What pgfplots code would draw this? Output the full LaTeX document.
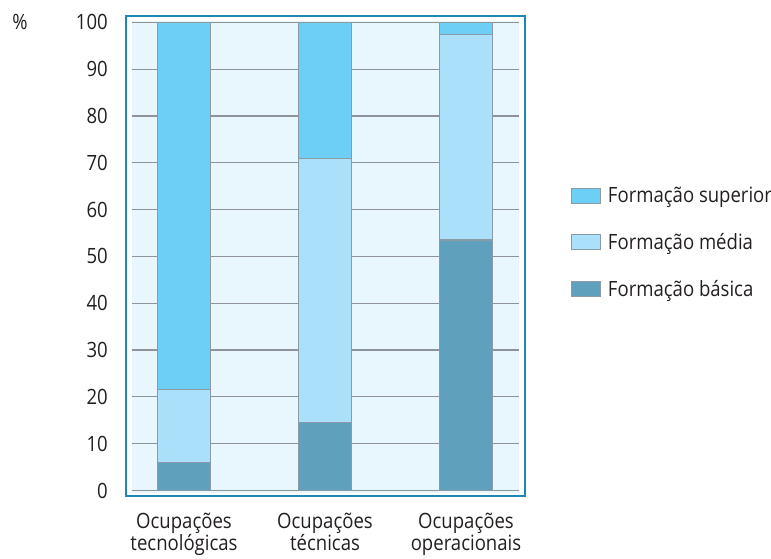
\documentclass[border=0pt]{standalone}
\usepackage{fontspec}
\setmainfont{Open Sans}[FakeStretch=0.88]
\usepackage{pgfplots}
\pgfplotsset{compat=1.18}
\definecolor{csup}{HTML}{6DCFF6}
\definecolor{cmed}{HTML}{ABE0FA}
\definecolor{cbas}{HTML}{5FA0BC}
\definecolor{edgegray}{HTML}{8A9BA6}
\definecolor{bgblue}{HTML}{E8F6FD}
\definecolor{gridgray}{HTML}{8E9399}
\definecolor{framecol}{HTML}{1E88B4}
\definecolor{txt}{HTML}{231F20}
\begin{document}
\begin{tikzpicture}
\path[use as bounding box] (0pt,0pt) rectangle (578.25pt,-419.25pt);
\draw[framecol, line width=1.1pt] (94.5pt,-12pt) rectangle (393.75pt,-372pt);
\node[anchor=west, inner sep=0pt, font=\fontsize{15.8}{18}\selectfont, text=txt] at (9pt,-16.5pt) {\%};
\begin{axis}[
  at={(99pt,-369.75pt)}, anchor=south west,
  scale only axis, width=290.25pt, height=354pt,
  xmin=-0.369, xmax=2.376, ymin=-0.53, ymax=100.3,
  axis background/.style={fill=bgblue},
  axis line style={draw=none},
  ybar stacked, bar width=39.75pt,
  ytick={0,10,...,100}, ymajorgrids,
  grid style={gridgray, line width=0.9pt},
  ytick pos=left, major tick length=3pt,
  ytick style={draw=none},
  xtick={0,1,2}, xtick style={draw=none},
  xticklabels={{Ocupações\\tecnológicas},{Ocupações\\técnicas},{Ocupações\\operacionais}},
  xticklabel style={align=center, inner sep=0pt, yshift=-14.5pt, font=\fontsize{15.8}{16.8}\selectfont, text=txt},
  yticklabel style={inner sep=0pt, xshift=-18pt, font=\fontsize{15.8}{18}\selectfont, text=txt},
  /pgf/number format/assume math mode=true,
  legend style={at={(1.134,0.53)}, anchor=west, draw=none, fill=none, inner sep=0pt,
     font=\fontsize{15.8}{18}\selectfont, text=txt, row sep=21.5pt, column sep=5pt,
     nodes={inner sep=0pt}},
  legend cell align=left,
  reverse legend,
  legend image code/.code={\draw[#1] (0pt,-5.3pt) rectangle (21.75pt,5.9pt);},
]
\addplot[fill=cbas, draw=edgegray, line width=0.9pt] coordinates {(0,6) (1,14.6) (2,53.5)};
\addplot[fill=cmed, draw=edgegray, line width=0.9pt] coordinates {(0,15.5) (1,56.4) (2,44)};
\addplot[fill=csup, draw=edgegray, line width=0.9pt] coordinates {(0,78.5) (1,29) (2,2.5)};
\legend{Formação básica, Formação média, Formação superior}
\end{axis}
\end{tikzpicture}
\end{document}
